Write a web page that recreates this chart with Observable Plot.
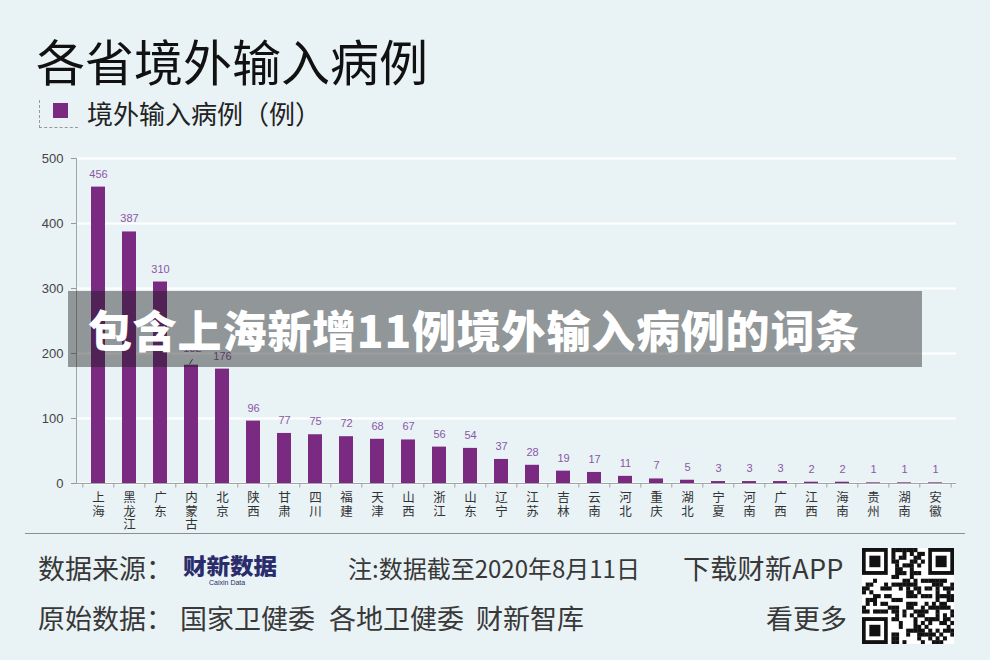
<!DOCTYPE html>
<html>
<head>
<meta charset="utf-8">
<script src="https://cdn.jsdelivr.net/npm/d3@7"></script>
<script src="https://cdn.jsdelivr.net/npm/@observablehq/plot@0.6"></script>
<style>
  html, body { margin: 0; padding: 0; }
  body { width: 990px; height: 660px; overflow: hidden; }
  #wrap { position: relative; width: 990px; height: 660px; background: #e9f2f5; overflow: hidden;
          font-family: "Noto Sans CJK SC", "Noto Sans", sans-serif; color: #222; }
  .abs { position: absolute; white-space: nowrap; }
  .ft { font-size: 27px; line-height: 34px; color: #383838; }
</style>
</head>
<body>
<div id="wrap">
  <div class="abs" style="left:36px;top:31px;font-size:49px;line-height:58px;color:#111;">各省境外输入病例</div>
  <div class="abs" style="left:39px;top:100px;width:38px;height:27px;border-left:1px dashed #999;border-bottom:1px dashed #999;"></div>
  <div class="abs" style="left:53px;top:103px;width:15px;height:15px;background:#7b2a82;"></div>
  <div class="abs" style="left:87px;top:97px;font-size:26px;line-height:32px;color:#222;">境外输入病例（例）</div>
  <div id="chart" class="abs" style="left:0;top:140px;"></div>
  <div class="abs" style="left:68px;top:291px;width:854px;height:76px;background:rgba(25,25,25,0.42);"></div>
  <div class="abs" style="left:88px;top:291px;height:76px;line-height:76px;font-size:44px;font-weight:900;color:#fff;letter-spacing:0.8px;">包含上海新增11例境外输入病例的词条</div>
  <div class="abs" style="left:25px;top:533px;width:940px;height:0;border-top:1.5px solid #8a8f92;"></div>
  <div class="abs ft" style="left:38px;top:551px;">数据来源：</div>
  <div class="abs" style="left:183px;top:553px;font-size:22px;line-height:22px;font-weight:900;color:#2a2c6c;transform:scaleX(1.07);transform-origin:left;">财新数据</div>
  <div class="abs" style="left:209px;top:579px;font-size:7px;line-height:8px;color:#2a2c6c;font-family:'Liberation Sans',Arial,sans-serif;">Caixin Data</div>
  <div class="abs" style="left:348px;top:551px;font-size:24px;line-height:34px;color:#383838;">注:数据截至2020年8月11日</div>
  <div class="abs" style="left:683px;top:551px;font-size:27px;line-height:34px;color:#383838;letter-spacing:0.3px;">下载财新APP</div>
  <div class="abs ft" style="left:38px;top:601px;">原始数据：</div>
  <div class="abs ft" style="left:180px;top:601px;">国家卫健委</div>
  <div class="abs ft" style="left:329px;top:601px;">各地卫健委</div>
  <div class="abs ft" style="left:476px;top:601px;">财新智库</div>
  <div class="abs ft" style="left:766px;top:601px;">看更多</div>
  <svg id="qr" class="abs" style="left:862px;top:548px;" width="92" height="96"></svg>
</div>
<script>
const provinces = ["上海","黑龙江","广东","内蒙古","北京","陕西","甘肃","四川","福建","天津","山西","浙江","山东","辽宁","江苏","吉林","云南","河北","重庆","湖北","宁夏","河南","广西","江西","海南","贵州","湖南","安徽"];
const cases = [456,387,310,182,176,96,77,75,72,68,67,56,54,37,28,19,17,11,7,5,3,3,3,2,2,1,1,1];
const yTicks = [0,100,200,300,400,500];

const data = provinces.map((p, i) => ({province: p, cases: cases[i]}));
const step = 880 / 28;
const purple = "#7b2a82";
const labelColor = "#8a58a6";

const chart = Plot.plot({
  width: 990,
  height: 400,
  marginTop: 18,
  marginBottom: 57,
  marginLeft: 76,
  marginRight: 34,
  style: {background: "transparent", fontFamily: "'Liberation Sans', Arial, sans-serif", overflow: "visible"},
  x: {domain: provinces, paddingInner: 0.56, paddingOuter: 0.28, axis: null},
  y: {domain: [0, 500], ticks: yTicks, axis: null},
  marks: [
    Plot.gridY(yTicks, {stroke: "#ffffff", strokeOpacity: 1, strokeWidth: 2}),
    Plot.axisY(yTicks, {tickSize: 5, tickPadding: 8, fontSize: 13, stroke: "#999", color: "#444", label: null}),
    Plot.frame({anchor: "left", stroke: "#a0a4a6"}),
    Plot.barY(data, {x: "province", y: "cases", fill: purple}),
    Plot.ruleY([0], {stroke: "#a0a4a6", strokeWidth: 1.2}),
    Plot.ruleX(provinces, {x: d => d, y1: 0, y2: -7, dx: -step / 2, stroke: "#a0a4a6"}),
    Plot.ruleX(provinces.slice(-1), {x: d => d, y1: 0, y2: -7, dx: step / 2, stroke: "#a0a4a6"}),
    Plot.axisX({tickSize: 0, tickPadding: 9, fontSize: 12.5, lineHeight: 1.08, color: "#333",
      fontFamily: "'Noto Sans CJK SC', sans-serif", label: null,
      tickFormat: d => Array.from(d).join("\n")}),
    Plot.text(data.filter(d => d.province !== "内蒙古"), {x: "province", y: "cases", text: d => String(d.cases), dy: -13, fontSize: 11, fill: labelColor}),
    Plot.text(data.filter(d => d.province === "内蒙古"), {x: "province", y: "cases", text: d => String(d.cases), dy: -17, dx: 1, fontSize: 11, fill: labelColor}),
    Plot.link(data.filter(d => d.province === "内蒙古"), {x1: "province", x2: "province", y1: "cases", y2: "cases", stroke: "#444", strokeWidth: 1,
      render: (index, scales, values, dims, ctx, next) => {
        const g = next(index, scales, values, dims, ctx);
        d3.select(g).selectAll("path").attr("d", (_, k) => {
          const i = index[k];
          const x = values.x1[i], y = values.y1[i];
          return `M${x - 2},${y - 1}L${x + 1},${y - 6}`;
        });
        return g;
      }})
  ]
});
document.getElementById("chart").appendChild(chart);

// QR-like decoration
const qr = d3.select("#qr");
const n = 25, m = 92 / n, mh = 96 / n;
function finder(cx, cy) {
  qr.append("rect").attr("x", cx * m).attr("y", cy * mh).attr("width", 7 * m).attr("height", 7 * mh).attr("fill", "#111");
  qr.append("rect").attr("x", (cx + 1) * m).attr("y", (cy + 1) * mh).attr("width", 5 * m).attr("height", 5 * mh).attr("fill", "#fff");
  qr.append("rect").attr("x", (cx + 2) * m).attr("y", (cy + 2) * mh).attr("width", 3 * m).attr("height", 3 * mh).attr("fill", "#111");
}
qr.append("rect").attr("width", 92).attr("height", 96).attr("fill", "#fff");
let seed = 12345;
function nextBit() { seed = (seed * 1103515245 + 12345) & 0x7fffffff; return (seed >> 16) & 1; }
for (let i = 0; i < n; i++) for (let j = 0; j < n; j++) {
  const inF = (i < 8 && j < 8) || (i > 16 && j < 8) || (i < 8 && j > 16);
  if (!inF && nextBit()) qr.append("rect").attr("x", i * m).attr("y", j * mh).attr("width", m + 0.3).attr("height", mh + 0.3).attr("fill", "#111");
}
finder(0, 0); finder(18, 0); finder(0, 18);
</script>
</body>
</html>
